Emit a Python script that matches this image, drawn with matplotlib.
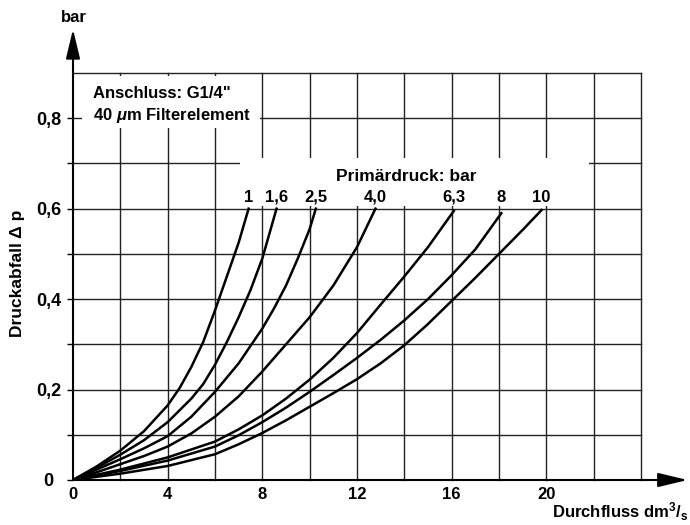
import matplotlib
matplotlib.use('Agg')
import matplotlib.pyplot as plt
from matplotlib.patches import Rectangle
import numpy as np

plt.rcParams['font.family'] = ['Liberation Sans', 'DejaVu Sans']
plt.rcParams['font.weight'] = 'bold'
plt.rcParams['mathtext.fontset'] = 'custom'
plt.rcParams['mathtext.it'] = 'Liberation Sans:italic:bold'
plt.rcParams['mathtext.default'] = 'regular'

# Kennlinien: Durchfluss (dm3/s) -> Druckabfall (bar), je Primärdruck
labels = ['1', '1,6', '2,5', '4,0', '6,3', '8', '10']

flow_1 = [0, 1, 2, 3, 4, 4.5, 5, 5.5, 6, 6.5, 7, 7.42]
dp_1 = [0, 0.03, 0.065, 0.108, 0.165, 0.203, 0.25, 0.305, 0.375, 0.45, 0.525, 0.6]

flow_16 = [0, 1, 2, 3, 4, 5, 5.5, 6, 6.5, 7, 7.5, 8, 8.6]
dp_16 = [0, 0.027, 0.056, 0.088, 0.128, 0.18, 0.212, 0.255, 0.305, 0.36, 0.42, 0.49, 0.6]

flow_25 = [0, 1, 2, 3, 4, 5, 6, 7, 8, 8.5, 9, 9.5, 10, 10.26]
dp_25 = [0, 0.023, 0.046, 0.07, 0.097, 0.14, 0.195, 0.258, 0.335, 0.38, 0.43, 0.49, 0.555, 0.6]

flow_40 = [0, 1, 2, 3, 4, 5, 6, 7, 8, 9, 10, 11, 12, 12.78]
dp_40 = [0, 0.017, 0.035, 0.053, 0.074, 0.103, 0.14, 0.185, 0.24, 0.3, 0.36, 0.43, 0.515, 0.6]

flow_63 = [0, 2, 4, 6, 7, 8, 9, 10, 11, 12, 13, 14, 15, 16.09]
dp_63 = [0, 0.023, 0.05, 0.085, 0.112, 0.143, 0.18, 0.222, 0.27, 0.325, 0.388, 0.45, 0.515, 0.595]

flow_8 = [0, 2, 4, 6, 7, 8, 9, 10, 11, 12, 13, 14, 15, 16, 17, 18.1]
dp_8 = [0, 0.02, 0.043, 0.074, 0.099, 0.128, 0.16, 0.195, 0.232, 0.27, 0.31, 0.353, 0.4, 0.453, 0.51, 0.59]

flow_10 = [0, 2, 4, 6, 7, 8, 9, 10, 11, 12, 13, 14, 15, 16, 17, 18, 19, 19.8]
dp_10 = [0, 0.014, 0.031, 0.057, 0.079, 0.104, 0.132, 0.162, 0.192, 0.223, 0.258, 0.298,
         0.345, 0.396, 0.447, 0.5, 0.553, 0.597]

flows = [flow_1, flow_16, flow_25, flow_40, flow_63, flow_8, flow_10]
dps = [dp_1, dp_16, dp_25, dp_40, dp_63, dp_8, dp_10]

xticks = [0, 4, 8, 12, 16, 20]
xticklabels = ['0', '4', '8', '12', '16', '20']
yticks = [0, 0.1, 0.2, 0.3, 0.4, 0.5, 0.6, 0.7, 0.8]
yticklabels = ['0', '', '0,2', '', '0,4', '', '0,6', '', '0,8']

fig = plt.figure(figsize=(6.9, 5.25), dpi=100)
ax = fig.add_axes([73/690, 45/525, 568/690, 407/525])
ax.set_xlim(0, 24)
ax.set_ylim(0, 0.9)
for s in ax.spines.values():
    s.set_visible(False)

# Raster
for gx in range(2, 25, 2):
    ax.axvline(gx, color='#222222', lw=1.0, zorder=1, clip_on=False)
for gy in np.arange(0.1, 0.95, 0.1):
    ax.axhline(gy, color='#222222', lw=1.0, zorder=1, clip_on=False)

# weisse Textfelder
ax.add_patch(Rectangle((0.4, 0.778), 7.5, 0.115, facecolor='white',
                       edgecolor='none', zorder=2))
ax.add_patch(Rectangle((7.05, 0.605), 14.75, 0.107, facecolor='white',
                       edgecolor='none', zorder=2))

for fx, fy, lab in zip(flows, dps, labels):
    ax.plot(fx, fy, color='black', lw=1.8, zorder=3, solid_joinstyle='round')
    ax.text(fx[-1], 0.615, lab, ha='center', va='baseline', fontsize=12, zorder=4)

ax.text(14.1, 0.661, 'Primärdruck: bar', ha='center', va='baseline',
        fontsize=12.5, zorder=4)
ax.text(0.85, 0.844, 'Anschluss: G1/4"', ha='left', va='baseline',
        fontsize=12, zorder=4)
ax.text(0.85, 0.796, r'40 $\mathit{\mu}$m Filterelement', ha='left',
        va='baseline', fontsize=12, zorder=4)

ax.set_xticks(xticks)
ax.set_xticklabels(xticklabels)
ax.set_yticks(yticks)
ax.set_yticklabels(yticklabels)
ax.tick_params(axis='x', length=0, pad=5, labelsize=12)
ax.tick_params(axis='y', length=4, width=1, direction='out', pad=13.5,
               labelsize=13)
for lbl in ax.get_yticklabels():
    lbl.set_ha('center')

# Achsen mit Pfeilen
arrow = dict(arrowstyle='-|>,head_length=1.8,head_width=0.43', color='black',
             lw=1.5, shrinkA=0, shrinkB=0)
ax.annotate('', xy=(25.97, 0), xytext=(0, 0), arrowprops=arrow,
            annotation_clip=False, zorder=5)
ax.annotate('', xy=(0, 0.997), xytext=(0, 0), arrowprops=arrow,
            annotation_clip=False, zorder=5)

fig.text(18/690, 1 - 273/525, 'Druckabfall Δ p', rotation=90, ha='center',
         va='center', fontsize=12.5)
fig.text(74/690, 1 - 17/525, 'bar', ha='center', va='center', fontsize=12)
fig.text(688/690, 1 - 518/525, r'Durchfluss dm$^3$/$_s$', ha='right',
         va='baseline', fontsize=12)

fig.savefig('out.png', dpi=100)
